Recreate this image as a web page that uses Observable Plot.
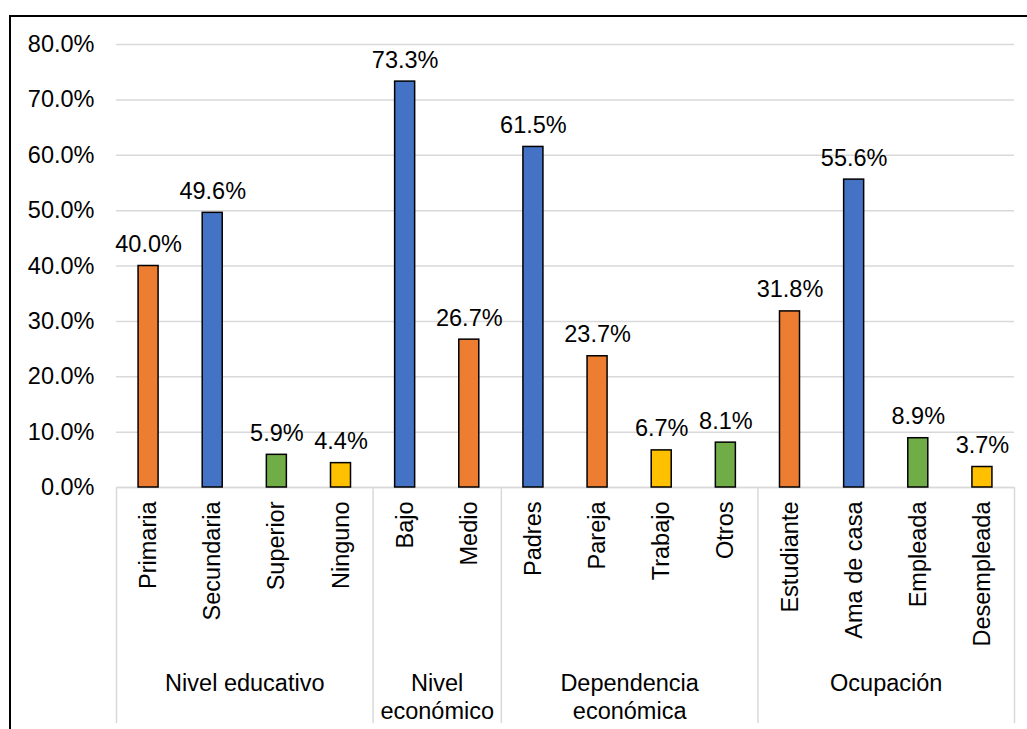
<!DOCTYPE html>
<html>
<head>
<meta charset="utf-8">
<script src="https://cdn.jsdelivr.net/npm/d3@7"></script>
<script src="https://cdn.jsdelivr.net/npm/@observablehq/plot@0.6"></script>
<style>
  html, body { margin: 0; padding: 0; background: #fff; overflow: hidden; }
  #wrap { position: relative; width: 1027px; height: 729px; }
  #frame { position: absolute; left: 9px; top: 15px; width: 1100px; height: 800px;
           border-left: 2px solid #000; border-top: 2px solid #000; box-sizing: border-box; }
  #chart { position: absolute; left: 0; top: 0; }
</style>
</head>
<body>
<div id="wrap"><div id="frame"></div><div id="chart"></div></div>
<script>
// Sample profile by variable (percent of respondents)
const categories = ["Primaria", "Secundaria", "Superior", "Ninguno",
                    "Bajo", "Medio",
                    "Padres", "Pareja", "Trabajo", "Otros",
                    "Estudiante", "Ama de casa", "Empleada", "Desempleada"];
const values = [40.0, 49.6, 5.9, 4.4,
                73.3, 26.7,
                61.5, 23.7, 6.7, 8.1,
                31.8, 55.6, 8.9, 3.7];
const barColors = ["#ED7D31", "#4472C4", "#70AD47", "#FFC000",
                   "#4472C4", "#ED7D31",
                   "#4472C4", "#ED7D31", "#FFC000", "#70AD47",
                   "#ED7D31", "#4472C4", "#70AD47", "#FFC000"];
const groups = ["Nivel educativo", "Nivel\neconómico", "Dependencia\neconómica", "Ocupación"];
const groupSizes = [4, 2, 4, 4];
const yTicks = [0, 10, 20, 30, 40, 50, 60, 70, 80];

const rows = categories.map((c, i) => ({i, category: c, value: values[i], color: barColors[i]}));

// group extents along the category index
let start = 0;
const groupRows = groups.map((g, k) => {
  const r = {name: g, start, end: start + groupSizes[k]};
  start += groupSizes[k];
  return r;
});
const boundaries = [0, ...groupRows.map(g => g.end)];

const half = 0.156; // half bar width, in category units
const pct = v => v.toFixed(1) + "%";
const font = "'Liberation Sans', Arial, sans-serif";

const chart = Plot.plot({
  width: 1027,
  height: 729,
  marginLeft: 116,
  marginRight: 13,
  marginTop: 44,
  marginBottom: 242,
  style: {fontFamily: font, fontSize: "23.5px", color: "#000", background: "transparent"},
  x: {type: "linear", domain: [0, categories.length], axis: null, label: null},
  y: {domain: [0, 80], axis: null, label: null},
  color: {type: "identity"},
  marks: [
    Plot.gridY(yTicks, {stroke: "#d9d9d9", strokeOpacity: 1, strokeWidth: 1.5}),
    Plot.axisY(yTicks, {tickSize: 0, tickPadding: 22, tickFormat: pct, fontSize: 23.5, fill: "#000", label: null}),
    Plot.ruleX(boundaries, {x: d => d, y1: 0, y2: 0, insetBottom: -236, stroke: "#d9d9d9", strokeWidth: 1.5}),
    Plot.ruleY([0], {stroke: "#d9d9d9", strokeWidth: 1.5}),
    Plot.rectY(rows, {
      x1: d => d.i + 0.5 - half, x2: d => d.i + 0.5 + half,
      y1: 0, y2: "value",
      fill: "color", stroke: "#000", strokeWidth: 1.5
    }),
    Plot.text(rows, {
      x: d => d.i + 0.5, y: "value", text: d => pct(d.value),
      lineAnchor: "bottom", dy: -14, fontSize: 23.5, fill: "#000"
    }),
    Plot.text(rows, {
      x: d => d.i + 0.5, y: 0, text: "category",
      rotate: -90, textAnchor: "end", lineAnchor: "middle", dy: 14, fontSize: 23.5, fill: "#000"
    }),
    Plot.text(groupRows, {
      x: d => (d.start + d.end) / 2, y: 0, text: "name",
      lineAnchor: "top", dy: 184, lineHeight: 1.19, fontSize: 23.5, fill: "#000"
    })
  ]
});
document.getElementById("chart").appendChild(chart);
</script>
</body>
</html>
